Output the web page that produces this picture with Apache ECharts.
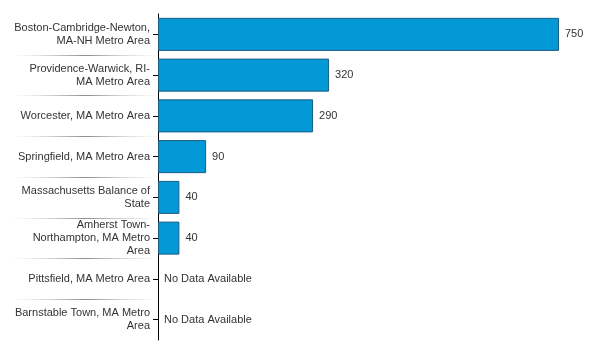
<!DOCTYPE html>
<html>
<head>
<meta charset="utf-8">
<script src="https://cdn.jsdelivr.net/npm/echarts@6/dist/echarts.min.js"></script>
<style>html,body{margin:0;padding:0;background:#fff}#c{width:600px;height:360px}</style>
</head>
<body>
<div id="c"></div>
<script>
const categories = [
  "Boston-Cambridge-Newton, MA-NH Metro Area",
  "Providence-Warwick, RI-MA Metro Area",
  "Worcester, MA Metro Area",
  "Springfield, MA Metro Area",
  "Massachusetts Balance of State",
  "Amherst Town-Northampton, MA Metro Area",
  "Pittsfield, MA Metro Area",
  "Barnstable Town, MA Metro Area"
];
const tickLabels = [
  "Boston-Cambridge-Newton,\nMA-NH Metro Area",
  "Providence-Warwick, RI-\nMA Metro Area",
  "Worcester, MA Metro Area",
  "Springfield, MA Metro Area",
  "Massachusetts Balance of\nState",
  "Amherst Town-\nNorthampton, MA Metro\nArea",
  "Pittsfield, MA Metro Area",
  "Barnstable Town, MA Metro\nArea"
];
const values = [750, 320, 290, 90, 40, 40, null, null];
const noDataText = "No Data Available";

const chart = echarts.init(document.getElementById('c'), null, {renderer: 'canvas'});
const font = 'Liberation Sans, Arial, sans-serif';
const seriesData = values.map(v => v === null
  ? {value: 0, itemStyle: {color: 'transparent', borderWidth: 0},
     label: {formatter: noDataText}}
  : v);

chart.setOption({
  animation: false,
  grid: [
    {left: 158, right: 41, top: 14, bottom: 20},
    {left: 13, width: 145, top: 14, bottom: 20}
  ],
  xAxis: [
    {gridIndex: 0, type: 'value', min: 0, max: 750, show: false},
    {gridIndex: 1, type: 'value', min: 0, max: 1, show: false}
  ],
  yAxis: [
    {
      gridIndex: 0, type: 'category', data: categories, inverse: true,
      axisLine: {show: true, lineStyle: {color: '#000', width: 1}},
      axisTick: {show: true, length: 5, alignWithLabel: true, lineStyle: {color: '#000'}},
      axisLabel: {
        margin: 8, fontSize: 11, fontFamily: font, color: '#333', lineHeight: 13,
        align: 'right',
        formatter: (v, i) => tickLabels[categories.indexOf(v)]
      },
      splitLine: {show: false}
    },
    {
      gridIndex: 1, type: 'category', data: categories, inverse: true,
      axisLine: {show: false}, axisTick: {show: false}, axisLabel: {show: false},
      splitLine: {
        show: true,
        showMinLine: false,
        showMaxLine: false,
        lineStyle: {
          width: 1,
          color: new echarts.graphic.LinearGradient(0, 0, 1, 0, [
            {offset: 0, color: 'rgba(200,200,200,0)'},
            {offset: 0.5, color: 'rgba(140,140,140,1)'},
            {offset: 1, color: 'rgba(200,200,200,0)'}
          ])
        }
      }
    }
  ],
  series: [{
    type: 'bar',
    xAxisIndex: 0, yAxisIndex: 0,
    data: seriesData,
    barCategoryGap: '19%',
    itemStyle: {color: '#0398d6', borderColor: '#1a5d86', borderWidth: 1},
    label: {
      show: true, position: 'right', distance: 6,
      fontSize: 11, fontFamily: font, color: '#333'
    }
  }]
});
</script>
</body>
</html>
